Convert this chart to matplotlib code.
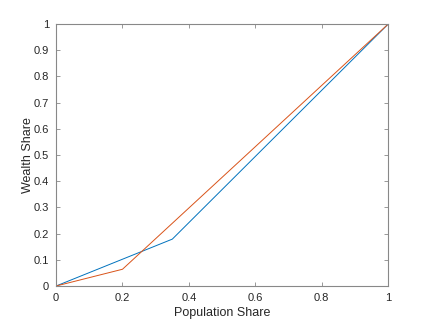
import numpy as np
import matplotlib
matplotlib.use("Agg")
import matplotlib.pyplot as plt

plt.rcParams['font.family'] = ['Liberation Sans', 'DejaVu Sans']

# Lorenz-type curves
pop_blue = [0, 0.35, 1]
wealth_blue = [0, 0.179, 1]
pop_orange = [0, 0.2, 1]
wealth_orange = [0, 0.064, 1]

xticks = [0, 0.2, 0.4, 0.6, 0.8, 1]
yticks = [0, 0.1, 0.2, 0.3, 0.4, 0.5, 0.6, 0.7, 0.8, 0.9, 1]

fig = plt.figure(figsize=(4.28, 3.21), dpi=100)
ax = fig.add_axes([0.131, 0.109, 0.776, 0.816])

ax.plot(pop_blue, wealth_blue, color='#0072BD', lw=0.7)
ax.plot(pop_orange, wealth_orange, color='#D95319', lw=0.7)

ax.set_xlim(0, 1)
ax.set_ylim(0, 1)
ax.set_xticks(xticks)
ax.set_xticklabels(['0', '0.2', '0.4', '0.6', '0.8', '1'])
ax.set_yticks(yticks)
ax.set_yticklabels(['0', '0.1', '0.2', '0.3', '0.4', '0.5', '0.6', '0.7', '0.8', '0.9', '1'])

grey = '#262626'
for s in ax.spines.values():
    s.set_color('#888888')
    s.set_linewidth(0.8)
ax.tick_params(direction='in', top=True, right=True, length=3, width=0.6,
               color='#888888', labelsize=8, labelcolor=grey, pad=5)

ax.set_xlabel('Population Share', fontsize=9, color=grey, labelpad=3)
ax.set_ylabel('Wealth Share', fontsize=9, color=grey, labelpad=0)

fig.savefig('out.png', dpi=100)
